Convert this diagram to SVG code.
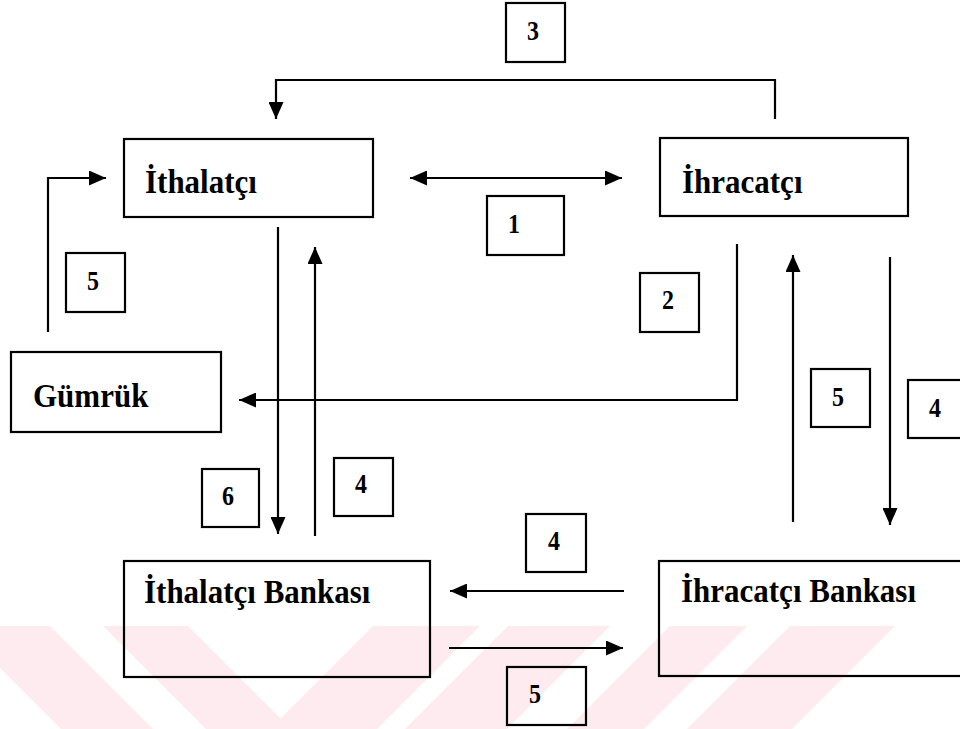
<svg xmlns="http://www.w3.org/2000/svg" width="960" height="729" viewBox="0 0 960 729">
<style>
.box{fill:none;stroke:#000;stroke-width:2.2}
.lbl{font-family:"Liberation Serif","Times New Roman",serif;font-weight:bold;font-size:31px;fill:#000}
.num{font-family:"Liberation Serif","Times New Roman",serif;font-weight:bold;font-size:24px;fill:#000;text-anchor:middle}
.con{fill:none;stroke:#000;stroke-width:2.2}
.wm{fill:#fdebef}
</style>
<defs>
<marker id="ah" markerUnits="userSpaceOnUse" markerWidth="17" markerHeight="15" refX="17" refY="7.5" orient="auto-start-reverse">
<path d="M0,0 L17,7.5 L0,15 z" fill="#000"/>
</marker>
</defs>
<rect width="960" height="729" fill="#fff"/>
<g id="watermark">
<polygon class="wm" points="-42,626 50,626 153,729 61,729"/>
<polygon class="wm" points="103,626 188,626 280,718 281,718 373,626 480,626 377,729 206,729"/>
<polygon class="wm" points="508,626 610,626 507,729 405,729"/>
<polygon class="wm" points="670,626 747,626 644,729 567,729"/>
<polygon class="wm" points="790,626 895,626 792,729 687,729"/>
</g>
<g id="connectors">
<path class="con" d="M775,119 V80 H276 V119" marker-end="url(#ah)"/>
<path class="con" d="M410,178 H622" marker-start="url(#ah)" marker-end="url(#ah)"/>
<path class="con" d="M737,244 V400 H239" marker-end="url(#ah)"/>
<path class="con" d="M48,332 V178 H106" marker-end="url(#ah)"/>
<path class="con" d="M278,227 V534" marker-end="url(#ah)"/>
<path class="con" d="M315,536 V247" marker-end="url(#ah)"/>
<path class="con" d="M793,522 V255" marker-end="url(#ah)"/>
<path class="con" d="M890,257 V525" marker-end="url(#ah)"/>
<path class="con" d="M624,591 H450" marker-end="url(#ah)"/>
<path class="con" d="M449,648 H623" marker-end="url(#ah)"/>
</g>
<g id="ithalatci">
<rect class="box" x="124" y="139" width="249" height="78"/>
<text class="lbl" transform="translate(145,193) scale(1,1.1)">İthalatçı</text>
</g>
<g id="ihracatci">
<rect class="box" x="660" y="138" width="248" height="78"/>
<text class="lbl" transform="translate(682,193) scale(1,1.1)">İhracatçı</text>
</g>
<g id="gumruk">
<rect class="box" x="11" y="352" width="210" height="80"/>
<text class="lbl" transform="translate(33,407) scale(1,1.1)">Gümrük</text>
</g>
<g id="ithalatci-bankasi">
<rect class="box" x="124" y="561" width="306" height="116"/>
<text class="lbl" transform="translate(144,603) scale(1,1.1)">İthalatçı Bankası</text>
</g>
<g id="ihracatci-bankasi">
<rect class="box" x="659" y="561" width="320" height="115"/>
<text class="lbl" transform="translate(681,602) scale(1,1.1)">İhracatçı Bankası</text>
</g>
<g id="step-3">
<rect class="box" x="506" y="3" width="59" height="59"/>
<text class="num" transform="translate(533,40) scale(1,1.1)">3</text>
</g>
<g id="step-1">
<rect class="box" x="487" y="196" width="77" height="59"/>
<text class="num" transform="translate(514,233) scale(1,1.1)">1</text>
</g>
<g id="step-2">
<rect class="box" x="640" y="273" width="59" height="59"/>
<text class="num" transform="translate(668,309) scale(1,1.1)">2</text>
</g>
<g id="step-5-gumruk">
<rect class="box" x="66" y="253" width="59" height="59"/>
<text class="num" transform="translate(93,290) scale(1,1.1)">5</text>
</g>
<g id="step-6">
<rect class="box" x="202" y="469" width="57" height="58"/>
<text class="num" transform="translate(228,505) scale(1,1.1)">6</text>
</g>
<g id="step-4-left">
<rect class="box" x="334" y="458" width="59" height="58"/>
<text class="num" transform="translate(361,493) scale(1,1.1)">4</text>
</g>
<g id="step-5-right">
<rect class="box" x="811" y="369" width="59" height="58"/>
<text class="num" transform="translate(838,406) scale(1,1.1)">5</text>
</g>
<g id="step-4-right">
<rect class="box" x="908" y="380" width="70" height="58"/>
<text class="num" transform="translate(935,417) scale(1,1.1)">4</text>
</g>
<g id="step-4-bottom">
<rect class="box" x="526" y="514" width="60" height="58"/>
<text class="num" transform="translate(554,550) scale(1,1.1)">4</text>
</g>
<g id="step-5-bottom">
<rect class="box" x="507" y="667" width="79" height="58"/>
<text class="num" transform="translate(535,703) scale(1,1.1)">5</text>
</g>
</svg>
